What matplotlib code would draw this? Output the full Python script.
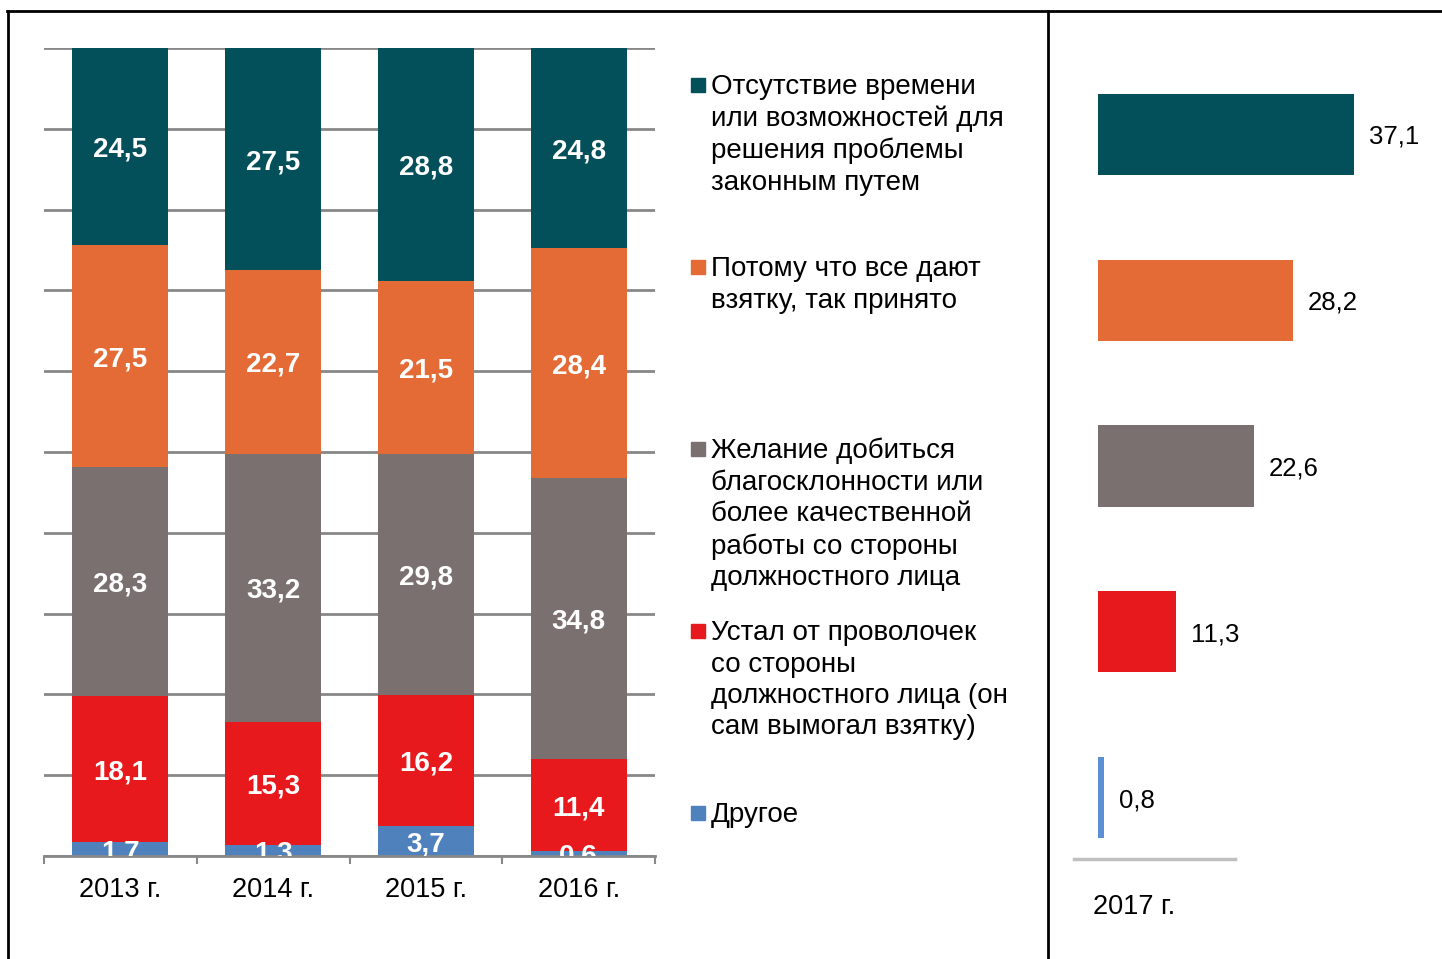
import numpy as np
import matplotlib.pyplot as plt
from matplotlib.lines import Line2D
from matplotlib.patches import Rectangle

years = ['2013 г.', '2014 г.', '2015 г.', '2016 г.']
reasons = ['Другое',
           'Устал от проволочек\nсо стороны\nдолжностного лица (он\nсам вымогал взятку)',
           'Желание добиться\nблагосклонности или\nболее качественной\nработы со стороны\nдолжностного лица',
           'Потому что все дают\nвзятку, так принято',
           'Отсутствие времени\nили возможностей для\nрешения проблемы\nзаконным путем']
colors = ['#4F81BD', '#E8191C', '#7A7070', '#E46A36', '#03505A']

# stacked from bottom: other, tired, favour, everyone, no time
other = [1.7, 1.3, 3.7, 0.6]
tired = [18.1, 15.3, 16.2, 11.4]
favour = [28.3, 33.2, 29.8, 34.8]
everyone = [27.5, 22.7, 21.5, 28.4]
no_time = [24.5, 27.5, 28.8, 24.8]
series = [other, tired, favour, everyone, no_time]

# 2017, top to bottom
values_2017 = [37.1, 28.2, 22.6, 11.3, 0.8]
colors_2017 = ['#03505A', '#E46A36', '#7A7070', '#E8191C', '#5B8FD6']

W, H = 1442, 959
fig = plt.figure(figsize=(W / 100, H / 100), dpi=100)
plt.rcParams['font.family'] = ['Liberation Sans', 'DejaVu Sans']

# --- left stacked chart
ax = fig.add_axes([44 / W, 1 - 856 / H, 611 / W, 808 / H])
x = np.arange(len(years))
bottom = np.zeros(len(years))
for vals, col in zip(series, colors):
    ax.bar(x, vals, 0.63, bottom=bottom, color=col, zorder=2)
    for xi, b, v in zip(x, bottom, vals):
        ax.text(xi, b + v / 2, f'{v:.1f}'.replace('.', ','), ha='center',
                va='center_baseline', color='white', fontsize=20, fontweight='bold',
                clip_on=True, zorder=3)
    bottom += np.array(vals)

ax.set_xlim(-0.5, 3.5)
ax.set_ylim(0, 100)
ax.set_yticks(np.arange(0, 101, 10))
ax.yaxis.grid(True, color='#888888', lw=2)
ax.set_axisbelow(True)
ax.tick_params(axis='y', left=False, labelleft=False)
for s in ['top', 'right', 'left']:
    ax.spines[s].set_visible(False)
ax.spines['bottom'].set_color('#888888')
ax.spines['bottom'].set_linewidth(2)
ax.set_xticks(np.arange(-0.5, 3.6, 1))
ax.set_xticks(x, minor=True)
ax.set_xticklabels([])
ax.set_xticklabels(years, minor=True, fontsize=19.5)
ax.tick_params(axis='x', which='major', length=6, width=1.5, color='#888888')
ax.tick_params(axis='x', which='minor', length=0, pad=15)

# --- legend
for i, (lab, col) in enumerate(zip(reasons[::-1], colors[::-1])):
    ytop = 85 + i * 182
    fig.add_artist(Rectangle((691 / W, 1 - (ytop + 7) / H), 14 / W, 14 / H,
                             color=col, transform=fig.transFigure))
    fig.text(711 / W, 1 - (ytop - 11) / H, lab, ha='left', va='top', fontsize=20,
             linespacing=1.275)

# --- right panel, 2017
ax2 = fig.add_axes([1098 / W, 1 - 880.4 / H, 344 / W, 828.8 / H])
y = np.arange(len(values_2017))
ax2.barh(y, values_2017, 0.49, color=colors_2017)
for yi, v in zip(y, values_2017):
    ax2.text(v + 2.2, yi, f'{v:.1f}'.replace('.', ','), ha='left', va='center_baseline',
             fontsize=18.5)
ax2.set_xlim(0, 344 / 6.9)
ax2.set_ylim(4.5, -0.5)
ax2.axis('off')
fig.add_artist(Line2D([1074 / W, 1235 / W], [1 - 859 / H] * 2, color='#C0C0C0', lw=2.5))
fig.text(1134 / W, 1 - 904 / H, '2017 г.', ha='center', va='center_baseline',
         fontsize=19.5)

# --- frame
frame = dict(color='black', lw=2)
fig.add_artist(Line2D([7 / W, 1], [1 - 11 / H] * 2, **frame))
fig.add_artist(Line2D([8 / W] * 2, [0, 1 - 11 / H], **frame))
fig.add_artist(Line2D([1048 / W] * 2, [0, 1 - 11 / H], **frame))

fig.savefig('out.png', dpi=100)
